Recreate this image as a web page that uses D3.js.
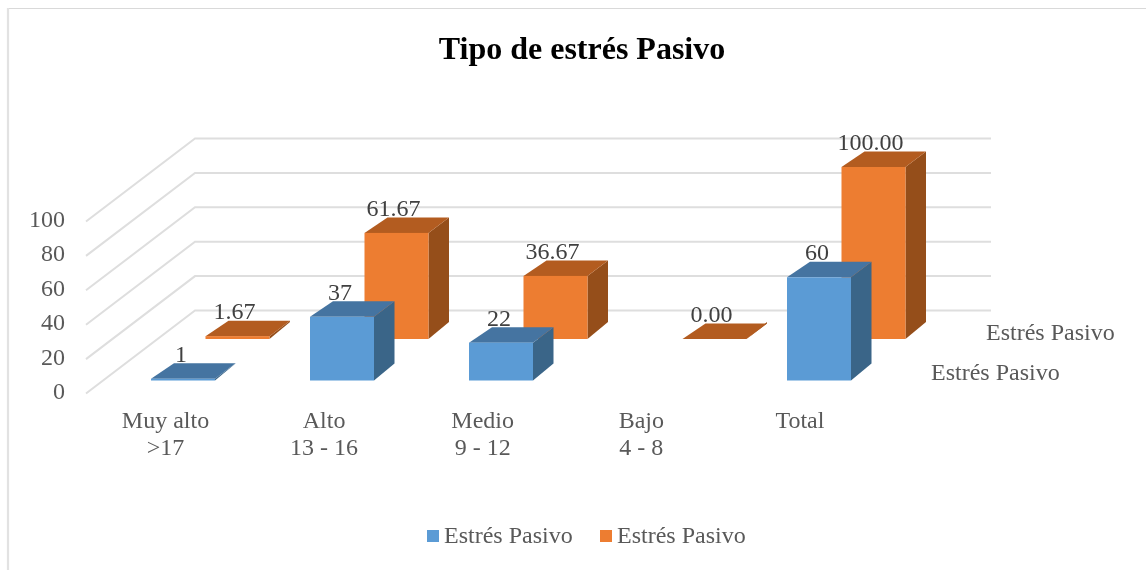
<!DOCTYPE html>
<html><head><meta charset="utf-8">
<script src="https://cdn.jsdelivr.net/npm/d3@7/dist/d3.min.js"></script>
<style>html,body{margin:0;padding:0;background:#fff}svg{display:block;filter:blur(0.4px)}text{font-family:"Liberation Serif",serif}</style>
</head><body><svg id="c" width="1146" height="570"></svg>
<script>
const categories = [["Muy alto",">17"],["Alto","13 - 16"],["Medio","9 - 12"],["Bajo","4 - 8"],["Total"]];
const seriesBlue = [1,37,22,null,60];
const seriesOrange = [1.67,61.67,36.67,0,100];
const blueLabels = ["1","37","22","","60"];
const orangeLabels = ["1.67","61.67","36.67","0.00","100.00"];
const yTicks = [0,20,40,60,80,100];
const seriesName = "Estrés Pasivo";
const titleText = "Tipo de estrés Pasivo";

const svg = d3.select("#c");
svg.append("path").attr("d","M1146,8.5H8").attr("fill","none").attr("stroke","#d9d9d9").attr("stroke-width",1.2);
svg.append("path").attr("d","M8,570V8").attr("fill","none").attr("stroke","#e2e2e2").attr("stroke-width",2.2);

const h = d3.scaleLinear().domain([0,100]).range([0,172]);
const x = d3.scaleBand().domain(d3.range(5)).range([126,921]);
const xLabel = d3.scaleBand().domain(d3.range(5)).range([126,919]);
const barW = 64;
const depth = {left:23,right:20.5,top:15.5,base:17};
const offs = {blue:{dx:25,y:380.5},orange:{dx:79.5,y:339}};

const wall = {fx:86,fy:393.5,bx:195,by:310.5,right:991};
const grid = svg.append("g").attr("fill","none").attr("stroke","#dedede").attr("stroke-width",2);
yTicks.forEach(t=>{
  grid.append("path").attr("d",`M${wall.fx},${wall.fy-h(t)}L${wall.bx},${wall.by-h(t)}H${wall.right}`);
});
svg.append("g").selectAll("text").data(yTicks).join("text")
  .attr("x",65).attr("y",t=>wall.fy-h(t)+5.5).attr("text-anchor","end")
  .attr("font-size",24).attr("fill","#595959").text(t=>t);

function bar(g,v,i,o,c){
  if(v==null) return;
  const x0=x(i)+o.dx, x1=x0+barW, b=o.y, t=b-h(v);
  g.append("path").attr("fill",c.side).attr("d",`M${x1},${b}L${x1+depth.right},${b-depth.base}V${t-depth.top}L${x1},${t}Z`);
  g.append("path").attr("fill",c.top).attr("d",`M${x0},${t}L${x0+depth.left},${t-depth.top}H${x1+depth.right}L${x1},${t}Z`);
  g.append("rect").attr("x",x0).attr("y",t).attr("width",barW).attr("height",h(v)).attr("fill",c.front);
}
const cO={front:"#ed7d31",top:"#b35c20",side:"#954e1a"}, cB={front:"#5b9bd5",top:"#4574a1",side:"#3a6588"};
const gO=svg.append("g"), gB=svg.append("g");
seriesOrange.forEach((v,i)=>bar(gO,v,i,offs.orange,cO));
seriesBlue.forEach((v,i)=>bar(gB,v,i,offs.blue,cB));

const lab=(vals,labs,o,shift)=>svg.append("g").selectAll("text").data(vals).join("text")
  .attr("x",(d,i)=>x(i)+o.dx+barW/2+shift).attr("y",(d,i)=>o.y-h(d||0)-17)
  .attr("text-anchor","middle").attr("font-size",24).attr("fill","#404040").text((d,i)=>labs[i]);
lab(seriesOrange,orangeLabels,offs.orange,-3);
lab(seriesBlue,blueLabels,offs.blue,-2);

const cg=svg.append("g");
categories.forEach((c,i)=>{
  c.forEach((s,j)=>cg.append("text").attr("x",xLabel(i)+39.5).attr("y",428+j*27).attr("text-anchor","middle")
    .attr("font-size",24).attr("fill","#595959").text(s));
});
svg.append("text").attr("x",986).attr("y",340).attr("font-size",24).attr("fill","#595959").text(seriesName);
svg.append("text").attr("x",931).attr("y",380).attr("font-size",24).attr("fill","#595959").text(seriesName);
svg.append("text").attr("x",582).attr("y",59).attr("text-anchor","middle").attr("font-size",32).attr("font-weight","bold").attr("fill","#000").text(titleText);
[[427,"#5b9bd5"],[600,"#ed7d31"]].forEach(([lx,col])=>{
  svg.append("rect").attr("x",lx).attr("y",530).attr("width",12).attr("height",12).attr("fill",col);
  svg.append("text").attr("x",lx+17).attr("y",543).attr("font-size",24).attr("fill","#595959").text(seriesName);
});
</script></body></html>
